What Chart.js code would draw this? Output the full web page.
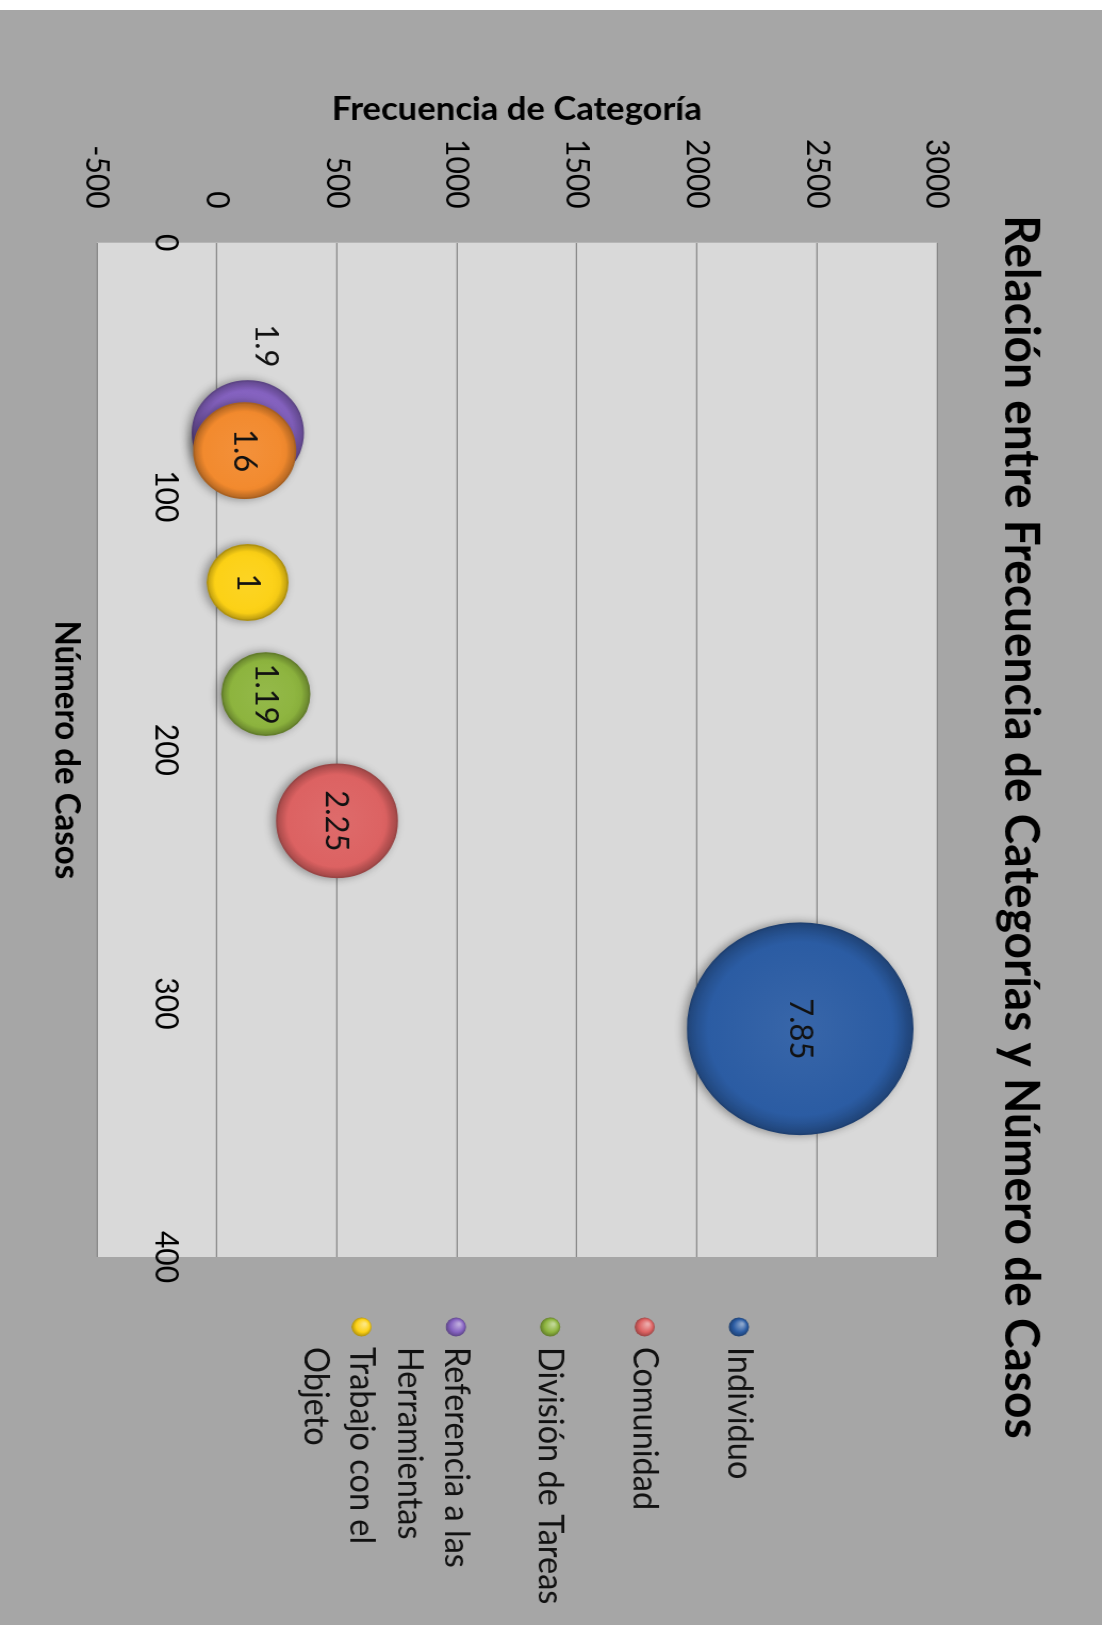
<!DOCTYPE html>
<html lang="es">
<head>
<meta charset="utf-8">
<title>Relación entre Frecuencia de Categorías y Número de Casos</title>
<script src="https://cdn.jsdelivr.net/npm/chart.js"></script>
<style>
    html, body { margin: 0; padding: 0; background: #ffffff; }
    body { width: 1102px; height: 1625px; position: relative; overflow: hidden; }
    /* the chart is shown turned a quarter clockwise, like the original picture */
    #frame { position: absolute; left: 0; top: 10px; width: 1102px; height: 1615px; background: #a6a6a6; overflow: hidden; }
    #turn { position: absolute; left: 0; top: 0; width: 1615px; height: 1035px;
            transform-origin: 0 0; transform: translateX(1102px) rotate(90deg) scaleY(1.0647); }
</style>
</head>
<body>
<div id="frame">
    <div id="turn"><canvas id="bubbleChart" width="1615" height="1035"></canvas></div>
</div>

<script>
    // data
    const categories = ['Individuo', 'Comunidad', 'División de Tareas', 'Referencia a las Herramientas', 'Trabajo con el Objeto', ''];
    const numeroCasos = [310, 228, 178, 75, 134, 82];
    const frecuencia = [2430, 500, 204, 129, 128, 116];
    const tamano = [7.85, 2.25, 1.19, 1.9, 1, 1.6];
    const xTicks = [0, 100, 200, 300, 400];
    const yTicks = [-500, 0, 500, 1000, 1500, 2000, 2500, 3000];

    const colors = ['#2b5ca3', '#dc6262', '#8db43e', '#8562c0', '#fcd116', '#f28a2e'];
    const FONT = 'Lato, "Liberation Sans", sans-serif';
    const K = 37.7; // bubble radius per sqrt(size)

    function mix(hex, to, t) {
        const n = parseInt(hex.slice(1), 16);
        const r = (n >> 16) & 255, g = (n >> 8) & 255, b = n & 255;
        const T = to === 'white' ? 255 : 0;
        return 'rgb(' + Math.round(r + (T - r) * t) + ',' + Math.round(g + (T - g) * t) + ',' + Math.round(b + (T - b) * t) + ')';
    }

    function bubbleFill(c) {
        const base = c.dataset.baseColor;
        if (c.type !== 'data' || !c.raw) return base;
        const chart = c.chart;
        const x = chart.scales.x.getPixelForValue(c.raw.x);
        const y = chart.scales.y.getPixelForValue(c.raw.y);
        const r = c.raw.r;
        if (!isFinite(x) || !isFinite(y) || !isFinite(r)) return base;
        const g = chart.ctx.createRadialGradient(x, y, 0, x, y, r);
        g.addColorStop(0, mix(base, 'white', 0.06));
        g.addColorStop(0.82, base);
        g.addColorStop(1, mix(base, 'black', 0.22));
        return g;
    }

    const datasets = categories.map((name, i) => ({
        label: name,
        data: [{ x: numeroCasos[i], y: frecuencia[i], r: K * Math.sqrt(tamano[i]), size: tamano[i] }],
        baseColor: colors[i],
        backgroundColor: bubbleFill,
        borderColor: mix(colors[i], 'black', 0.3),
        borderWidth: 1.5,
        order: name === '' ? -1 : i,
        labelOffset: name === 'Referencia a las Herramientas' ? [-87, -17] : [0, 0]
    }));

    const plotBackground = {
        id: 'plotBackground',
        beforeDraw(chart) {
            const { ctx, chartArea: a } = chart;
            ctx.save();
            ctx.fillStyle = '#d9d9d9';
            ctx.fillRect(a.left, a.top, a.width, a.height);
            ctx.restore();
        }
    };

    const bubbleExtras = {
        id: 'bubbleExtras',
        beforeDatasetsDraw(chart) {
            const ctx = chart.ctx;
            ctx.save();
            ctx.shadowColor = 'rgba(0,0,0,0.35)';
            ctx.shadowBlur = 8;
            ctx.shadowOffsetX = 0;
            ctx.shadowOffsetY = 3;
        },
        afterDatasetsDraw(chart) {
            const ctx = chart.ctx;
            ctx.restore();
            ctx.save();
            ctx.font = '31px ' + FONT;
            ctx.fillStyle = '#111';
            ctx.textAlign = 'center';
            ctx.textBaseline = 'middle';
            chart.data.datasets.forEach((ds, i) => {
                const el = chart.getDatasetMeta(i).data[0];
                ctx.fillText(String(ds.data[0].size), el.x + ds.labelOffset[0], el.y + ds.labelOffset[1]);
            });
            ctx.restore();
        }
    };

    function wrap(ctx, text, maxWidth) {
        const words = text.split(' ');
        const lines = [];
        let line = '';
        words.forEach(w => {
            const test = line ? line + ' ' + w : w;
            if (line && ctx.measureText(test).width > maxWidth) {
                lines.push(line);
                line = w;
            } else {
                line = test;
            }
        });
        lines.push(line);
        return lines;
    }

    const decorations = {
        id: 'decorations',
        afterDraw(chart) {
            const { ctx, chartArea: a } = chart;
            ctx.save();
            ctx.fillStyle = '#000';
            ctx.textBaseline = 'middle';

            // chart title
            ctx.font = 'bold 46px ' + FONT;
            ctx.textAlign = 'center';
            ctx.fillText('Relación entre Frecuencia de Categorías y Número de Casos', 817, 76);

            // x axis title (the x axis itself sits on y = 0)
            ctx.font = 'bold 33px ' + FONT;
            ctx.fillText('Número de Casos', (a.left + a.right) / 2, 972);

            // legend
            ctx.font = '32.5px ' + FONT;
            ctx.textAlign = 'left';
            let row = 0;
            chart.data.datasets.forEach(ds => {
                if (!ds.label) return;
                const cy = 341 + row * 88.6;
                const mx = a.right + 70;
                const g = ctx.createRadialGradient(mx - 3, cy - 3, 1, mx, cy, 10);
                g.addColorStop(0, mix(ds.baseColor, 'white', 0.45));
                g.addColorStop(0.6, ds.baseColor);
                g.addColorStop(1, mix(ds.baseColor, 'black', 0.35));
                ctx.fillStyle = g;
                ctx.beginPath();
                ctx.arc(mx, cy, 9.5, 0, Math.PI * 2);
                ctx.fill();
                ctx.fillStyle = '#111';
                wrap(ctx, ds.label, 280).forEach((ln, k) => {
                    ctx.fillText(ln, a.right + 90, cy + k * 43.5);
                });
                row++;
            });
            ctx.restore();
        }
    };

    new Chart(document.getElementById('bubbleChart').getContext('2d'), {
        type: 'bubble',
        data: { datasets: datasets },
        options: {
            responsive: false,
            animation: false,
            devicePixelRatio: 1,
            layout: { autoPadding: false, padding: { top: 155, right: 368, bottom: 91, left: 0 } },
            plugins: {
                legend: { display: false },
                tooltip: { enabled: false },
                title: { display: false }
            },
            scales: {
                x: {
                    type: 'linear',
                    min: xTicks[0],
                    max: xTicks[xTicks.length - 1],
                    position: { y: 0 },
                    afterBuildTicks: s => { s.ticks = xTicks.map(v => ({ value: v })); },
                    ticks: { padding: 30, color: '#000', font: { family: FONT, size: 30 }, maxRotation: 0, autoSkip: false,
                             callback: v => String(v) },
                    grid: { display: false, drawTicks: false },
                    border: { display: false }
                },
                y: {
                    type: 'linear',
                    min: yTicks[0],
                    max: yTicks[yTicks.length - 1],
                    position: 'left',
                    afterBuildTicks: s => { s.ticks = yTicks.map(v => ({ value: v })); },
                    afterFit: s => { s.width = 232.7; },
                    ticks: { padding: 34, color: '#000', font: { family: FONT, size: 30 }, callback: v => String(v) },
                    grid: { color: '#888888', lineWidth: 1.2, drawTicks: false },
                    border: { display: false },
                    title: {
                        display: true,
                        text: 'Frecuencia de Categoría',
                        color: '#000',
                        font: { family: FONT, size: 32.5, weight: 'bold' },
                        padding: { top: 80, bottom: 0 }
                    }
                }
            }
        },
        plugins: [plotBackground, bubbleExtras, decorations]
    });
</script>
</body>
</html>
